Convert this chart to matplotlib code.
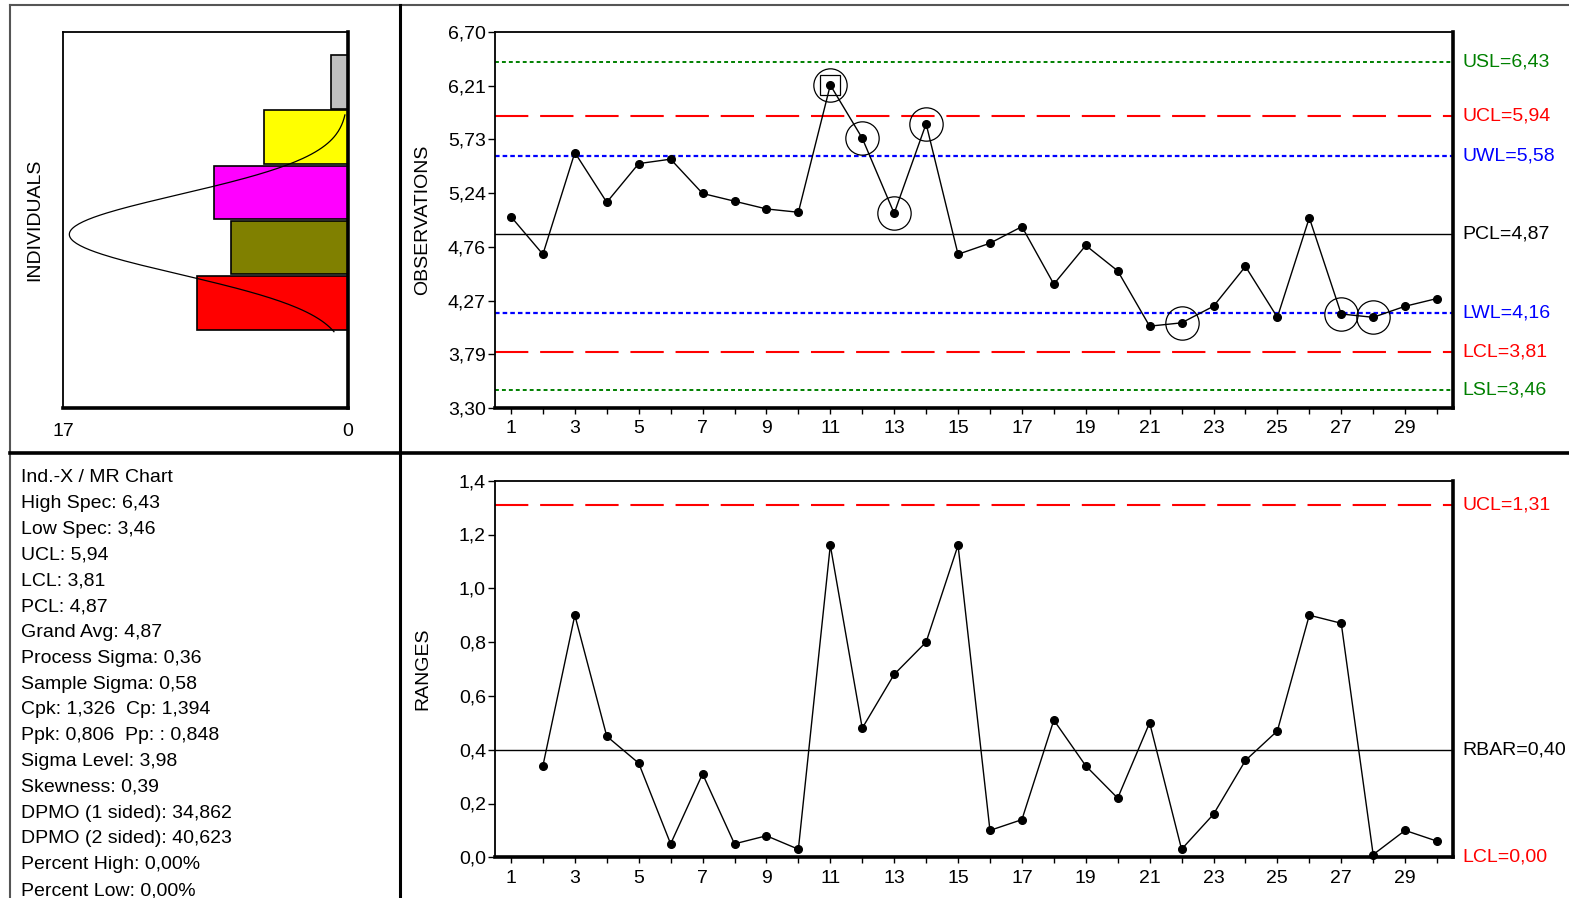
import numpy as np
import matplotlib
matplotlib.use('Agg')
import matplotlib.pyplot as plt
import matplotlib.transforms as mtransforms
from matplotlib.lines import Line2D

plt.rcParams['font.family'] = ['Liberation Sans', 'DejaVu Sans']
plt.rcParams['font.size'] = 14
plt.rcParams['lines.scale_dashes'] = False

W, H = 1569, 898

# --- data ---
samples = np.arange(1, 31)
observations = [5.03, 4.69, 5.61, 5.16, 5.51, 5.55, 5.24, 5.17, 5.10, 5.07,
                6.22, 5.74, 5.06, 5.87, 4.69, 4.79, 4.94, 4.42, 4.77, 4.54,
                4.04, 4.07, 4.22, 4.58, 4.12, 5.02, 4.15, 4.12, 4.22, 4.29]
flagged = [11, 12, 13, 14, 22, 27, 28]
boxed = [11]

mr_samples = np.arange(2, 31)
moving_ranges = [0.34, 0.90, 0.45, 0.35, 0.05, 0.31, 0.05, 0.08, 0.03, 1.16,
                 0.48, 0.68, 0.80, 1.16, 0.10, 0.14, 0.51, 0.34, 0.22, 0.50,
                 0.03, 0.16, 0.36, 0.47, 0.90, 0.87, 0.01, 0.10, 0.06]

obs_limit_names = ['USL=6,43', 'UCL=5,94', 'UWL=5,58', 'PCL=4,87', 'LWL=4,16', 'LCL=3,81', 'LSL=3,46']
obs_limit_values = [6.43, 5.94, 5.58, 4.87, 4.16, 3.81, 3.46]
mr_limit_names = ['UCL=1,31', 'RBAR=0,40', 'LCL=0,00']
mr_limit_values = [1.31, 0.40, 0.00]

obs_tick_labels = ['3,30', '3,79', '4,27', '4,76', '5,24', '5,73', '6,21', '6,70']
mr_tick_values = [0.0, 0.2, 0.4, 0.6, 0.8, 1.0, 1.2, 1.4]
mr_tick_labels = ['0,0', '0,2', '0,4', '0,6', '0,8', '1,0', '1,2', '1,4']

bin_centers = [4.25, 4.75, 5.25, 5.75, 6.25]
bin_counts = [9, 7, 8, 5, 1]
grand_avg = 4.87
process_sigma = 0.36
bin_width = 0.5

stats_lines = [
    'Ind.-X / MR Chart', 'High Spec: 6,43', 'Low Spec: 3,46', 'UCL: 5,94',
    'LCL: 3,81', 'PCL: 4,87', 'Grand Avg: 4,87', 'Process Sigma: 0,36',
    'Sample Sigma: 0,58', 'Cpk: 1,326  Cp: 1,394', 'Ppk: 0,806  Pp: : 0,848',
    'Sigma Level: 3,98', 'Skewness: 0,39', 'DPMO (1 sided): 34,862',
    'DPMO (2 sided): 40,623', 'Percent High: 0,00%', 'Percent Low: 0,00%',
]

# --- styles ---
GREEN, RED, BLUE = '#008000', '#ff0000', '#0000ff'
obs_styles = [
    (GREEN, (2.8, 2.2), 1.4), (RED, (24, 8.5), 1.5), (BLUE, (3.3, 2.2), 1.6),
    ('black', None, 1.0), (BLUE, (3.3, 2.2), 1.6), (RED, (24, 8.5), 1.5),
    (GREEN, (2.8, 2.2), 1.4),
]
mr_styles = [(RED, (24, 8.5), 1.5), ('black', None, 1.0), (RED, None, 0)]
bin_colors = ['#ff0000', '#808000', '#ff00ff', '#ffff00', '#c0c0c0']


def px_rect(left, top, right, bottom):
    return [left / W, 1 - bottom / H, (right - left) / W, (bottom - top) / H]


def style_spines(ax):
    for s in ['top', 'left']:
        ax.spines[s].set_linewidth(1.3)
    for s in ['right', 'bottom']:
        ax.spines[s].set_linewidth(2.6)


fig = plt.figure(figsize=(W / 100, H / 100), dpi=100)
fig.patch.set_facecolor('white')

# panel frame
def fig_line(x0, y0, x1, y1, lw, color='black'):
    fig.add_artist(Line2D([x0 / W, x1 / W], [1 - y0 / H, 1 - y1 / H],
                          lw=lw, color=color, transform=fig.transFigure))

fig_line(10, 5, W, 5, 1.5, '#555555')
fig_line(10, 5, 10, H, 1.5, '#555555')
fig_line(400, 5, 400, H, 2.2)
fig_line(10, 452.5, W, 452.5, 2.6)

# --- histogram ---
axh = fig.add_axes(px_rect(63, 32, 348, 408))
axh.barh(bin_centers, bin_counts, height=0.485, color=bin_colors,
         edgecolor='black', linewidth=1.2)
yy = np.linspace(3.99, grand_avg + 3 * process_sigma, 200)
curve = len(observations) * bin_width / (process_sigma * np.sqrt(2 * np.pi)) * \
    np.exp(-0.5 * ((yy - grand_avg) / process_sigma) ** 2)
axh.plot(curve, yy, color='black', lw=0.9)
axh.set_xlim(17, 0)
axh.set_ylim(3.30, 6.70)
axh.set_xticks([17, 0])
axh.set_xticklabels(['17', '0'])
axh.set_yticks([])
axh.tick_params(axis='x', length=0, pad=11)
style_spines(axh)
fig.text(35 / W, 1 - 220 / H, 'INDIVIDUALS', rotation=90, ha='center', va='center')

# --- stats text ---
for i, line in enumerate(stats_lines):
    fig.text(21 / W, 1 - (477.7 + i * 25.8) / H, line, ha='left', va='center')


def control_axes(rect, ylabel):
    ax = fig.add_axes(rect)
    ax.set_xlim(0.5, 30.5)
    ax.set_xticks(samples)
    ax.set_xticklabels([str(s) if s % 2 else '' for s in samples])
    ax.tick_params(axis='x', length=4.5, width=1, pad=4.5)
    ax.tick_params(axis='y', length=5, width=1, pad=1.5)
    style_spines(ax)
    fig.text(423 / W, rect[1] + rect[3] / 2, ylabel, rotation=90, ha='center', va='center')
    return ax


def limit_lines(ax, names, values, styles):
    trans = mtransforms.blended_transform_factory(ax.transAxes, ax.transData)
    for name, val, (color, dashes, lw) in zip(names, values, styles):
        if lw > 0:
            ln = ax.axhline(val, color=color, lw=lw, zorder=1)
            if dashes:
                ln.set_dashes(dashes)
        ax.text(1.0095, val, name, color=color, transform=trans,
                ha='left', va='center', clip_on=False)


# --- observations chart ---
ax1 = control_axes(px_rect(495, 32, 1453, 408), 'OBSERVATIONS')
ax1.set_ylim(3.30, 6.70)
ax1.set_yticks(np.linspace(3.30, 6.70, 8))
ax1.set_yticklabels(obs_tick_labels)
limit_lines(ax1, obs_limit_names, obs_limit_values, obs_styles)
ax1.plot(samples, observations, color='black', lw=1.0, marker='o', ms=5.5, zorder=3)
flag_y = [observations[s - 1] for s in flagged]
ax1.plot(flagged, flag_y, ls='none', marker='o', ms=24, mfc='none', mec='black', mew=0.9, zorder=4)
box_y = [observations[s - 1] for s in boxed]
ax1.plot(boxed, box_y, ls='none', marker='s', ms=15, mfc='none', mec='black', mew=0.9, zorder=4)

# --- moving range chart ---
ax2 = control_axes(px_rect(495, 480.7, 1453, 857.3), 'RANGES')
ax2.set_ylim(0, 1.4)
ax2.set_yticks(mr_tick_values)
ax2.set_yticklabels(mr_tick_labels)
limit_lines(ax2, mr_limit_names, mr_limit_values, mr_styles)
ax2.plot(mr_samples, moving_ranges, color='black', lw=1.0, marker='o', ms=5.5,
         zorder=3, clip_on=False)

fig.savefig('out.png', dpi=100, facecolor='white')
